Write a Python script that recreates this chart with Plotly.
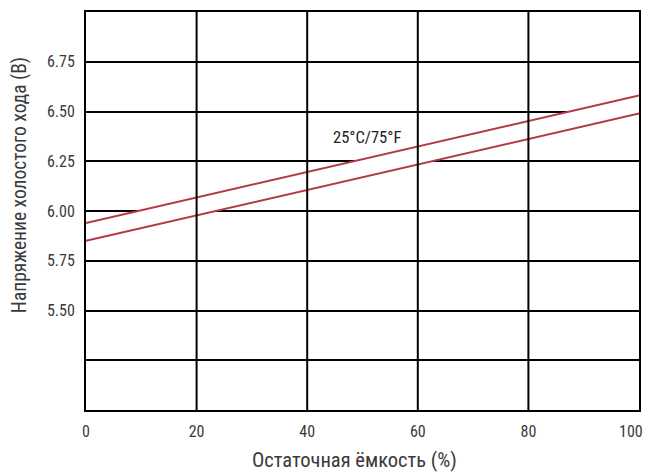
import plotly.graph_objects as go

# Data
capacity = [0, 100]
upper_v = [5.94, 6.58]
lower_v = [5.85, 6.49]
x_ticks = [0, 20, 40, 60, 80, 100]
y_grid = [5.0, 5.25, 5.5, 5.75, 6.0, 6.25, 6.5, 6.75, 7.0]
y_labels = ["", "", "5.50", "5.75", "6.00", "6.25", "6.50", "6.75", ""]
temp_label = "25°C/75°F"
x_title = "Остаточная ёмкость (%)"
y_title = "Напряжение холостого хода (В)"

FONT = "Roboto Condensed, Liberation Sans Narrow, DejaVu Sans Condensed, Arial Narrow, sans-serif"
RED = "#b23a44"
TXT = "#3a3a3a"

x_labels = [str(v) for v in x_ticks[:-1]] + [""]

fig = go.Figure()
fig.add_trace(go.Scatter(x=capacity, y=lower_v, mode="lines",
                         line=dict(color=RED, width=2), hoverinfo="skip", showlegend=False))
fig.add_trace(go.Scatter(x=capacity, y=upper_v, mode="lines", fill="tonexty",
                         fillcolor="white", line=dict(color=RED, width=2),
                         hoverinfo="skip", showlegend=False))

# vertical grid lines drawn above the white band
for xv in x_ticks[1:-1]:
    fig.add_shape(type="line", xref="x", yref="paper", x0=xv, x1=xv, y0=0, y1=1,
                  line=dict(color="black", width=2), layer="above")

# last x tick label kept inside the visible area
fig.add_annotation(x=x_ticks[-1], xref="x", y=0, yref="paper", text=str(x_ticks[-1]),
                   showarrow=False, xanchor="right", yanchor="middle",
                   xshift=6, yshift=-21,
                   font=dict(family=FONT, size=16, color=TXT))

fig.add_annotation(x=50.8, y=6.37, text=temp_label, showarrow=False,
                   font=dict(family=FONT, size=16.5, color="#222"))

fig.add_annotation(xref="paper", yref="paper", x=0.485, y=-0.125, text=x_title,
                   showarrow=False, xanchor="center", yanchor="middle",
                   font=dict(family=FONT, size=20.5, color=TXT))
fig.add_annotation(xref="paper", yref="paper", x=-0.12, y=0.564, text=y_title,
                   showarrow=False, xanchor="center", yanchor="middle", textangle=-90,
                   font=dict(family=FONT, size=19.5, color=TXT))

fig.update_layout(
    width=646, height=466,
    margin=dict(l=78, r=15, t=4, b=64, autoexpand=False),
    paper_bgcolor="white", plot_bgcolor="white",
    font=dict(family=FONT, color=TXT),
    xaxis=dict(range=[0, 100], tickvals=x_ticks, ticktext=x_labels,
               showgrid=False, zeroline=False,
               showline=True, linecolor="black", linewidth=2, mirror=True,
               ticks="outside", ticklen=6, tickcolor="rgba(0,0,0,0)",
               tickfont=dict(size=16, color=TXT), automargin=False),
    yaxis=dict(range=[5.0, 7.0], tickvals=y_grid, ticktext=y_labels,
               showgrid=True, gridcolor="black", gridwidth=2, zeroline=False,
               showline=True, linecolor="black", linewidth=2, mirror=True,
               ticks="outside", ticklen=6, tickcolor="rgba(0,0,0,0)",
               tickfont=dict(size=16, color=TXT), automargin=False),
)

fig.write_html("out.html")
